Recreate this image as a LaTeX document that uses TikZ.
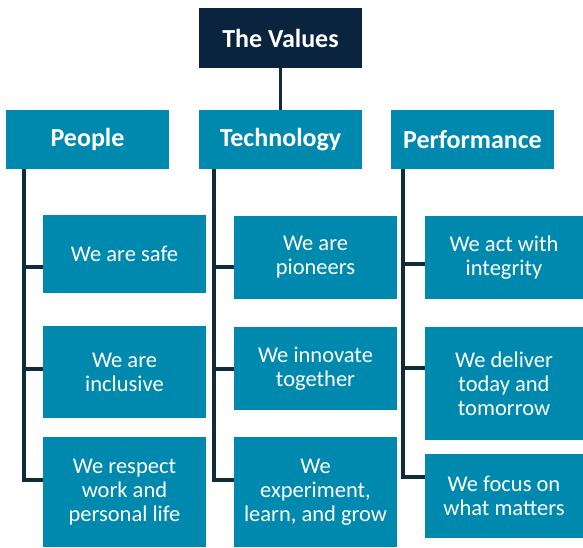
\documentclass[tikz,border=0pt]{standalone}
\usepackage{fontspec}
\setmainfont{Carlito}
\definecolor{teal1}{HTML}{0089AE}
\definecolor{navy1}{HTML}{0A243E}
\definecolor{line1}{HTML}{102C3A}
\begin{document}
\begin{tikzpicture}[x=1pt,y=-1pt,
  hdr/.style={fill=teal1,text=white,inner sep=0pt,minimum width=163pt,minimum height=59pt,
    font=\fontsize{26}{28}\selectfont\bfseries,align=center},
  topbox/.style={hdr,fill=navy1,minimum height=60pt},
  item/.style={fill=teal1,text=white,inner sep=0pt,minimum width=163pt,
    font=\fontsize{22.5}{24}\selectfont,align=center},
  conn/.style={draw=line1,line width=3.5pt}]
\useasboundingbox (0,0) rectangle (583,547);
% top
\node[topbox] (values) at (280.5,38) {The Values};
% headers
\node[hdr] (people) at (87.5,139.5) {People};
\node[hdr] (tech) at (280.5,139.5) {Technology};
\node[hdr] (perf) at (472.5,139.5) {Performance};
% people items
\node[item,minimum height=78pt] (p1) at (124.5,254) {We are safe};
\node[item,minimum height=92pt] (p2) at (124.5,372) {We are\\inclusive};
\node[item,minimum height=110pt] (p3) at (124.5,492) {We respect\\work and\\personal life};
% technology items
\node[item,minimum height=83pt] (t1) at (315.5,257.5) {We are\\pioneers};
\node[item,minimum height=83pt] (t2) at (315.5,368.5) {We innovate\\together};
\node[item,minimum height=110pt] (t3) at (315.5,492) {We\\experiment,\\learn, and grow};
% performance items
\node[item,minimum width=158pt,minimum height=83pt] (f1) at (504,257.5) {We act with\\integrity};
\node[item,minimum width=158pt,minimum height=113pt] (f2) at (504,383.5) {We deliver\\today and\\tomorrow};
\node[item,minimum width=158pt,minimum height=84pt] (f3) at (504,496) {We focus on\\what matters};
% branch coordinates
\coordinate (pb1) at (24,267);
\coordinate (pb2) at (24,369);
\coordinate (pb3) at (24,480);
\coordinate (tb1) at (214,267);
\coordinate (tb2) at (214,369);
\coordinate (tb3) at (214,480);
\coordinate (fb1) at (403,264);
\coordinate (fb2) at (403,368);
\coordinate (fb3) at (403,477);
% connectors
\draw[conn] (values.south) -- (tech.north);
\draw[conn] (people.south -| pb1) -- ([yshift=-1.75pt]pb3);
\draw[conn] (pb1) -- (pb1 -| p1.west);
\draw[conn] (pb2) -- (pb2 -| p2.west);
\draw[conn] ([xshift=-1.75pt]pb3) -- (pb3 -| p3.west);
\draw[conn] (tech.south -| tb1) -- ([yshift=-1.75pt]tb3);
\draw[conn] (tb1) -- (tb1 -| t1.west);
\draw[conn] (tb2) -- (tb2 -| t2.west);
\draw[conn] ([xshift=-1.75pt]tb3) -- (tb3 -| t3.west);
\draw[conn] (perf.south -| fb1) -- ([yshift=-1.75pt]fb3);
\draw[conn] (fb1) -- (fb1 -| f1.west);
\draw[conn] (fb2) -- (fb2 -| f2.west);
\draw[conn] ([xshift=-1.75pt]fb3) -- (fb3 -| f3.west);
\end{tikzpicture}
\end{document}
